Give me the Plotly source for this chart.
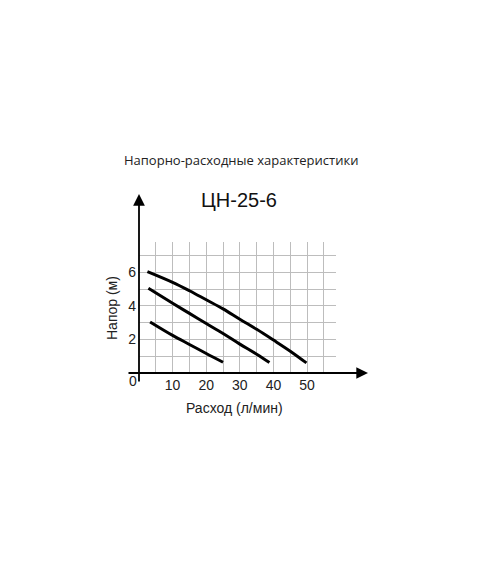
import plotly.graph_objects as go

# Data (flow l/min, head m)
curve_high_x = [2.5, 10, 15, 20, 25, 30, 35, 40, 45, 49.8]
curve_high_y = [6.04, 5.4, 4.9, 4.36, 3.82, 3.2, 2.6, 1.96, 1.3, 0.6]
curve_mid_x = [2.8, 10, 15, 20, 25, 30, 35, 38.8]
curve_mid_y = [5.04, 4.15, 3.55, 2.95, 2.35, 1.72, 1.12, 0.62]
curve_low_x = [3.3, 10, 15, 20, 25.0]
curve_low_y = [3.04, 2.24, 1.7, 1.16, 0.64]

x_ticks = [10, 20, 30, 40, 50]
y_ticks = [2, 4, 6]

title_main = "Напорно-расходные характеристики"
title_model = "ЦН-25-6"
x_label = "Расход (л/мин)"
y_label = "Напор (м)"

OFF = 8  # page body margin
# plot area in page pixels
L, R, T, B = 139, 336, 242, 373
W, H = 480, 570

def px(xp):
    return (xp - L) / (R - L)

def py(yp):
    return (B - yp) / (B - T)

fig = go.Figure()
for xs, ys in [(curve_high_x, curve_high_y), (curve_mid_x, curve_mid_y), (curve_low_x, curve_low_y)]:
    fig.add_trace(go.Scatter(x=xs, y=ys, mode="lines",
                             line=dict(color="black", width=3, shape="spline", smoothing=1.0),
                             showlegend=False, hoverinfo="skip"))

font_axis = dict(family="Liberation Sans, Arial, sans-serif", size=14, color="#222")

fig.update_layout(
    width=W, height=H,
    margin=dict(l=L - OFF, r=W - R + OFF, t=T - OFF, b=H - B + OFF, pad=0),
    paper_bgcolor="white", plot_bgcolor="white",
    xaxis=dict(range=[0, 58.6], tickvals=x_ticks, showgrid=True, gridcolor="#bdbdbd", gridwidth=1,
               minor=dict(dtick=5, tick0=0, showgrid=True, gridcolor="#bdbdbd", gridwidth=1),
               zeroline=False, showline=False, ticks="", tickfont=font_axis, ticklabelstandoff=2),
    yaxis=dict(range=[0, 7.8], tickvals=y_ticks, showgrid=True, gridcolor="#bdbdbd", gridwidth=1,
               minor=dict(dtick=1, tick0=0, showgrid=True, gridcolor="#bdbdbd", gridwidth=1),
               zeroline=False, showline=False, ticks="", tickfont=font_axis, ticklabelstandoff=2),
    annotations=[
        # x axis arrow
        dict(xref="paper", yref="paper", x=px(368), y=0, ax=127 - 368, ay=0, axref="pixel", ayref="pixel",
             text="", showarrow=True, arrowhead=2, arrowsize=1.3, arrowwidth=1.8, arrowcolor="black"),
        # y axis arrow
        dict(xref="paper", yref="paper", x=0, y=py(194), ax=0, ay=383 - 194, axref="pixel", ayref="pixel",
             text="", showarrow=True, arrowhead=2, arrowsize=1.3, arrowwidth=1.8, arrowcolor="black"),
        dict(xref="paper", yref="paper", x=px(133), y=py(381), text="0", showarrow=False,
             font=font_axis, xanchor="center", yanchor="middle"),
        dict(xref="paper", yref="paper", x=px(241), y=py(160), text=title_main, showarrow=False,
             font=dict(family="Open Sans, sans-serif", size=13, color="#222"), xanchor="center", yanchor="middle"),
        dict(xref="paper", yref="paper", x=px(239), y=py(200), text=title_model, showarrow=False,
             font=dict(family="Liberation Sans, Arial, sans-serif", size=20, color="#111"), xanchor="center", yanchor="middle"),
        dict(xref="paper", yref="paper", x=px(234), y=py(408), text=x_label, showarrow=False,
             font=font_axis, xanchor="center", yanchor="middle"),
        dict(xref="paper", yref="paper", x=px(112), y=py(308), text=y_label, showarrow=False, textangle=-90,
             font=font_axis, xanchor="center", yanchor="middle"),
    ],
)

fig.write_html("out.html")
